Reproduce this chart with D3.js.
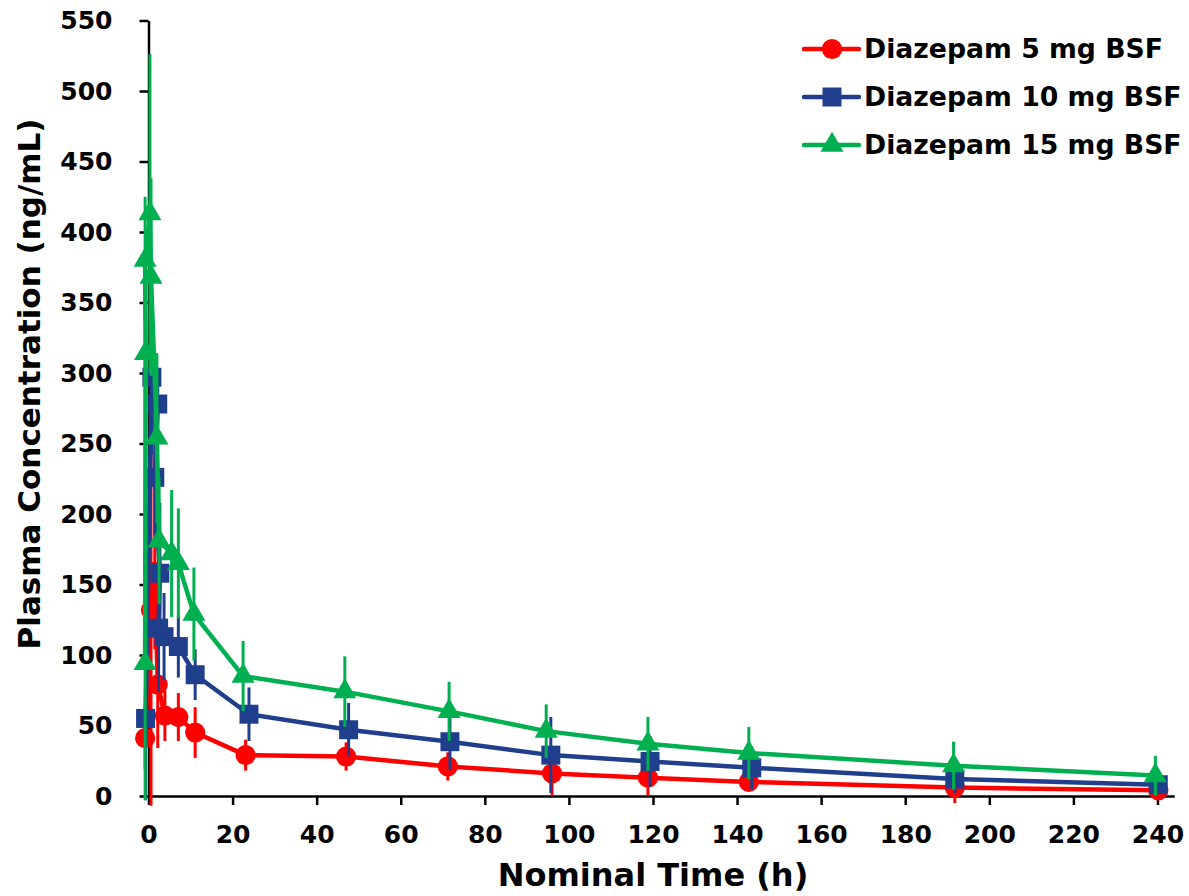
<!DOCTYPE html>
<html>
<head>
<meta charset="utf-8">
<script src="https://cdn.jsdelivr.net/npm/d3@7/dist/d3.min.js"></script>
<style>
  body { margin: 0; background: #fff; }
  text { font-family: "DejaVu Sans", Verdana, sans-serif; font-weight: bold; fill: #000; }
</style>
</head>
<body>
<svg id="chart" width="1189" height="896"></svg>
<script>
// mean actual sampling time (h), mean conc (ng/mL), SD
var time5 = [-0.8, 0.6, 1.5, 2.2, 3.9, 7.1, 11.1, 23.1, 47.0, 71.2, 96.0, 118.8, 142.8, 191.8, 240.2];
var mean5 = [41, 132, 159, 79, 57, 56, 45, 29, 28, 21, 16, 13, 10, 6, 4];
var sd5 = [22, 139, 55, 45, 18, 17, 18, 11, 10, 10, 16, 13, 7, 11, 4];

var time10 = [-0.7, 0.8, 2.2, 1.5, 2.7, 2.4, 3.7, 7.1, 11.1, 23.9, 47.6, 71.7, 95.7, 119.3, 143.5, 191.8, 240.2];
var mean10 = [55, 297, 278, 226, 158, 119, 113, 106, 86, 58, 47, 38.5, 29, 24.5, 20, 12, 8];
var sd10 = [58, 55, 22, 45, 50, 45, 31, 22, 18, 19, 19, 20, 27, 18, 15, 10, 6];

var time15 = [-0.8, -0.7, -0.8, 0.35, 0.6, 2.0, 2.5, 5.5, 7.1, 10.8, 22.5, 46.7, 71.5, 94.6, 118.8, 142.8, 191.5, 239.5];
var mean15 = [94, 314, 380, 413, 368, 254, 181, 172, 165, 129, 85, 74, 60, 46, 37, 30.5, 21.5, 14.5];
var sd15 = [97, 60, 45, 113, 70, 60, 45, 45, 39, 33, 25, 25, 21, 19, 19, 18.5, 17, 14];

var seriesNames = ["Diazepam 5 mg BSF", "Diazepam 10 mg BSF", "Diazepam 15 mg BSF"];
var xTicks = [0, 20, 40, 60, 80, 100, 120, 140, 160, 180, 200, 220, 240];
var yTicks = [0, 50, 100, 150, 200, 250, 300, 350, 400, 450, 500, 550];

var colors = ["#ff0000", "#1f3f8c", "#00b050"],
  shapes = [d3.symbolCircle, d3.symbolSquare, d3.symbolTriangle],
  sizes = [320, 360, 230];

var svg = d3.select("#chart"),
  x = d3.scaleLinear().domain([0, 244]).range([148.5, 148.5 + 244 * 4.204]),
  y = d3.scaleLinear().domain([0, 550]).range([796, 20.5]);

function pack(t, m, s){
  return t.map(function(d, i){ return {t: d, m: m[i], s: s[i]}; });
}
var series = [pack(time5, mean5, sd5), pack(time10, mean10, sd10), pack(time15, mean15, sd15)];

// axes
var xAxis = svg.append("g")
  .attr("transform", "translate(0," + y(0) + ")")
  .call(d3.axisBottom(x).tickValues(xTicks).tickSize(9).tickSizeOuter(0).tickPadding(20));
var yAxis = svg.append("g")
  .attr("transform", "translate(" + x(0) + ",0)")
  .call(d3.axisLeft(y).tickValues(yTicks).tickSize(9).tickSizeOuter(0).tickPadding(27));
[xAxis, yAxis].forEach(function(a){
  a.selectAll("path, line").attr("stroke", "#000").attr("stroke-width", 2.5);
  a.selectAll("text").attr("font-size", 25).attr("font-family", "DejaVu Sans").attr("font-weight", "bold");
});

// series: red, then blue, then green on top
var line = d3.line().x(function(d){ return x(d.t); }).y(function(d){ return y(d.m); });
series.forEach(function(data, k){
  var g = svg.append("g");
  g.append("path")
    .datum(data)
    .attr("d", line)
    .attr("fill", "none")
    .attr("stroke", colors[k])
    .attr("stroke-width", 4.5)
    .attr("stroke-linejoin", "round");
  g.selectAll("path.mk")
    .data(data)
    .enter()
    .append("path")
    .attr("class", "mk")
    .attr("d", d3.symbol().type(shapes[k]).size(sizes[k]))
    .attr("transform", function(d){ return "translate(" + x(d.t) + "," + y(d.m) + ")"; })
    .attr("fill", colors[k]);
  g.selectAll("line.err")
    .data(data)
    .enter()
    .append("line")
    .attr("class", "err")
    .attr("x1", function(d){ return x(d.t); })
    .attr("x2", function(d){ return x(d.t); })
    .attr("y1", function(d){ return y(d.m + d.s); })
    .attr("y2", function(d){ return y(d.m - d.s); })
    .attr("stroke", colors[k])
    .attr("stroke-width", 3);
});

// legend
var legend = svg.append("g").attr("transform", "translate(804,49)");
seriesNames.forEach(function(name, k){
  var row = legend.append("g").attr("transform", "translate(0," + (k * 48) + ")");
  row.append("line").attr("x1", 0).attr("x2", 55).attr("y1", 0).attr("y2", 0)
    .attr("stroke", colors[k]).attr("stroke-width", 4.5).attr("stroke-linecap", "round");
  row.append("path").attr("d", d3.symbol().type(shapes[k]).size(sizes[k]))
    .attr("transform", "translate(28,0)").attr("fill", colors[k]);
  row.append("text").attr("x", 60).attr("y", 9).attr("font-size", 26.7).text(name);
});

// axis titles
svg.append("text")
  .attr("x", x(120)).attr("y", 886)
  .attr("text-anchor", "middle")
  .attr("font-size", 32)
  .text("Nominal Time (h)");
svg.append("text")
  .attr("transform", "translate(40,384) rotate(-90)")
  .attr("text-anchor", "middle")
  .attr("font-size", 31)
  .text("Plasma Concentration (ng/mL)");
</script>
</body>
</html>
